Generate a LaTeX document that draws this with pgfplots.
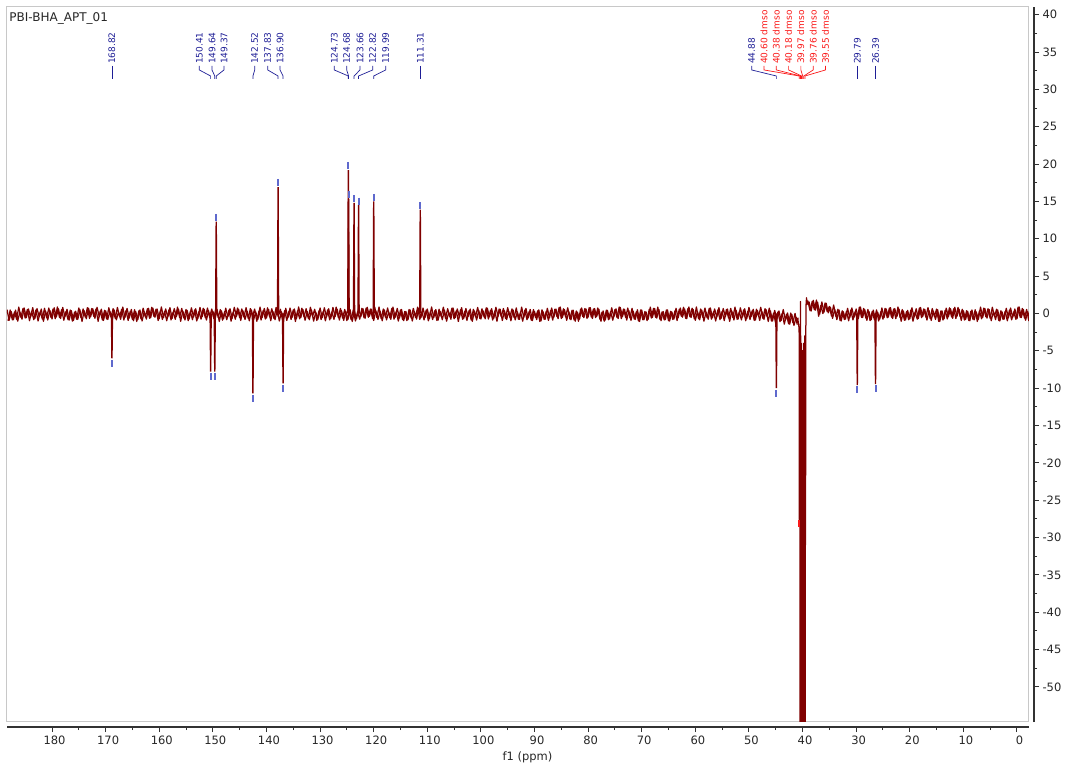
\documentclass[border=0pt]{standalone}
\usepackage{fontspec}
\setmainfont{DejaVu Sans}
\usepackage{pgfplots}
\pgfplotsset{compat=1.18}
\definecolor{spec}{RGB}{128,0,0}
\definecolor{labblue}{RGB}{30,30,150}
\definecolor{labred}{RGB}{250,25,25}
\definecolor{mkblue}{RGB}{95,105,205}
\definecolor{framegray}{RGB}{200,200,200}
\definecolor{axgray}{RGB}{50,50,50}
\newcommand{\plab}[4]{%
  \node[rotate=90, anchor=west, inner sep=0pt, text=#4, font=\fontsize{9}{10}\selectfont] at (axis cs:#1,33.40) {#3};
  \draw[#4, line width=0.7pt] (axis cs:#1,33.13) -- (axis cs:#1,32.60) -- (axis cs:#2,31.79) -- (axis cs:#2,31.39);
}
\begin{document}
\begin{tikzpicture}
\path[use as bounding box] (0pt,0pt) rectangle (1065pt,764pt);
% x axis with ticks
\begin{axis}[
  at={(7pt,37pt)}, anchor=south west, scale only axis,
  width=1022pt, height=700pt,
  xmin=-2.24, xmax=188.4, x dir=reverse, ymin=0, ymax=1,
  axis x line=bottom, axis y line=none,
  axis line style={-, draw=axgray, line width=1.3pt},
  xtick={0,10,...,180}, minor x tick num=1,
  tick align=outside, major tick length=5pt, minor tick length=3pt,
  tick style={axgray, line width=1pt},
  /pgf/number format/assume math mode=true,
  xticklabel style={font=\fontsize{11.5}{13}\selectfont, text=black!85, xshift=2.5pt},
  xlabel={f1 (ppm)},
  xlabel style={at={(axis description cs:0.5093,0)}, anchor=north, inner sep=0pt, yshift=-25pt, font=\fontsize{11.5}{13}\selectfont, text=black!85},
]
\end{axis}
% y axis with ticks
\begin{axis}[
  at={(1034pt,42pt)}, anchor=south east, scale only axis,
  width=100pt, height=715pt,
  xmin=0, xmax=1, ymin=-54.69, ymax=41.03,
  axis y line=right, axis x line=none,
  axis line style={-, draw=axgray, line width=1.3pt},
  ytick={-50,-45,...,40}, minor y tick num=1,
  tick align=outside, major tick length=5pt, minor tick length=3pt,
  tick style={axgray, line width=1pt},
  /pgf/number format/assume math mode=true,
  yticklabel style={font=\fontsize{11.5}{13}\selectfont, text=black!85},
]
\end{axis}
% main spectrum axis
\begin{axis}[
  at={(7pt,42pt)}, anchor=south west, scale only axis,
  width=1022pt, height=715pt,
  xmin=-2.24, xmax=188.4, x dir=reverse, ymin=-54.69, ymax=41.03,
  ticks=none, axis line style={draw=framegray, line width=1pt},
  clip=true,
]
% baseline noise, second interleaved trace
\addplot[spec, line width=1.25pt, line join=round] table {
x y
188.2 -0.98
187.8 0.47
187.4 -0.86
187.0 0.21
186.6 -0.79
186.2 0.85
185.8 -0.53
185.4 0.68
185.0 -0.62
184.6 0.54
184.2 -0.96
183.8 0.27
183.4 -0.83
183.0 0.48
182.6 -1.01
182.2 0.23
181.8 -0.76
181.4 0.69
181.0 -0.58
180.6 0.73
180.2 -0.51
179.8 0.60
179.4 -0.70
179.0 0.87
178.6 -0.55
178.2 0.52
177.8 -0.91
177.4 0.25
177.0 -0.84
176.6 0.45
176.2 -1.03
175.8 0.18
175.4 -0.77
175.0 0.74
174.6 -0.56
174.2 0.61
173.8 -0.49
173.4 0.78
173.0 -0.67
172.6 0.66
172.2 -0.41
171.8 0.59
171.4 -1.05
171.0 0.33
170.6 -0.88
170.2 0.42
169.8 -0.74
169.4 0.76
169.0 -0.47
168.6 0.63
168.2 -0.68
167.8 0.81
167.4 -0.43
167.0 0.56
166.6 -0.89
166.2 0.38
165.8 -0.93
165.4 0.31
165.0 -0.80
164.6 0.50
164.2 -1.07
163.8 0.35
163.4 -0.72
163.0 0.71
162.6 -0.45
162.2 0.64
161.8 -0.65
161.4 0.83
161.0 -0.38
160.6 0.57
160.2 -0.94
159.8 0.36
159.4 -0.81
159.0 0.29
158.6 -0.98
158.2 0.47
157.8 -0.86
157.4 0.21
157.0 -0.79
156.6 0.85
156.2 -0.53
155.8 0.68
155.4 -0.62
155.0 0.54
154.6 -0.96
154.2 0.27
153.8 -0.83
153.4 0.48
153.0 -1.01
152.6 0.23
152.2 -0.76
151.8 0.69
151.4 -0.58
151.0 0.73
150.6 -0.51
150.2 0.60
149.8 -0.70
149.4 0.87
149.0 -0.55
148.6 0.52
148.2 -0.91
147.8 0.25
147.4 -0.84
147.0 0.45
146.6 -1.03
146.2 0.18
145.8 -0.77
145.4 0.74
145.0 -0.56
144.6 0.61
144.2 -0.49
143.8 0.78
143.4 -0.67
143.0 0.66
142.6 -0.41
142.2 0.59
141.8 -1.05
141.4 0.33
141.0 -0.88
140.6 0.42
140.2 -0.74
139.8 0.76
139.4 -0.47
139.0 0.63
138.6 -0.68
138.2 0.81
137.8 -0.43
137.4 0.56
137.0 -0.89
136.6 0.38
136.2 -0.93
135.8 0.31
135.4 -0.80
135.0 0.50
134.6 -1.07
134.2 0.35
133.8 -0.72
133.4 0.71
133.0 -0.45
132.6 0.64
132.2 -0.65
131.8 0.83
131.4 -0.38
131.0 0.57
130.6 -0.94
130.2 0.36
129.8 -0.81
129.4 0.29
129.0 -0.98
128.6 0.47
128.2 -0.86
127.8 0.21
127.4 -0.79
127.0 0.85
126.6 -0.53
126.2 0.68
125.8 -0.62
125.4 0.54
125.0 -0.96
124.6 0.27
124.2 -0.83
123.8 0.48
123.4 -1.01
123.0 0.23
122.6 -0.76
122.2 0.69
121.8 -0.58
121.4 0.73
121.0 -0.51
120.6 0.60
120.2 -0.70
119.8 0.87
119.4 -0.55
119.0 0.87
118.6 -0.70
118.2 0.60
117.8 -0.51
117.4 0.73
117.0 -0.58
116.6 0.69
116.2 -0.76
115.8 0.23
115.4 -1.01
115.0 0.48
114.6 -0.83
114.2 0.27
113.8 -0.96
113.4 0.54
113.0 -0.62
112.6 0.68
112.2 -0.53
111.8 0.85
111.4 -0.79
111.0 0.21
110.6 -0.86
110.2 0.47
109.8 -0.98
109.4 0.29
109.0 -0.81
108.6 0.36
108.2 -0.94
107.8 0.57
107.4 -0.38
107.0 0.83
106.6 -0.65
106.2 0.64
105.8 -0.45
105.4 0.71
105.0 -0.72
104.6 0.35
104.2 -1.07
103.8 0.50
103.4 -0.80
103.0 0.31
102.6 -0.93
102.2 0.38
101.8 -0.89
101.4 0.56
101.0 -0.43
100.6 0.81
100.2 -0.68
99.8 0.63
99.4 -0.47
99.0 0.76
98.6 -0.74
98.2 0.42
97.8 -0.88
97.4 0.33
97.0 -1.05
96.6 0.59
96.2 -0.41
95.8 0.66
95.4 -0.67
95.0 0.78
94.6 -0.49
94.2 0.61
93.8 -0.56
93.4 0.74
93.0 -0.77
92.6 0.18
92.2 -1.03
91.8 0.45
91.4 -0.84
91.0 0.25
90.6 -0.91
90.2 0.52
89.8 -0.55
89.4 0.35
89.0 -1.07
88.6 0.50
88.2 -0.80
87.8 0.31
87.4 -0.93
87.0 0.38
86.6 -0.89
86.2 0.56
85.8 -0.43
85.4 0.81
85.0 -0.68
84.6 0.63
84.2 -0.47
83.8 0.76
83.4 -0.74
83.0 0.42
82.6 -0.88
82.2 0.33
81.8 -1.05
81.4 0.59
81.0 -0.41
80.6 0.66
80.2 -0.67
79.8 0.78
79.4 -0.49
79.0 0.61
78.6 -0.56
78.2 0.74
77.8 -0.77
77.4 0.18
77.0 -1.03
76.6 0.45
76.2 -0.84
75.8 0.25
75.4 -0.91
75.0 0.52
74.6 -0.55
74.2 0.87
73.8 -0.70
73.4 0.60
73.0 -0.51
72.6 0.73
72.2 -0.58
71.8 0.69
71.4 -0.76
71.0 0.23
70.6 -1.01
70.2 0.48
69.8 -0.83
69.4 0.27
69.0 -0.96
68.6 0.54
68.2 -0.62
67.8 0.68
67.4 -0.53
67.0 0.85
66.6 -0.79
66.2 0.21
65.8 -0.86
65.4 0.47
65.0 -0.98
64.6 0.29
64.2 -0.81
63.8 0.36
63.4 -0.94
63.0 0.57
62.6 -0.38
62.2 0.83
61.8 -0.65
61.4 0.64
61.0 -0.45
60.6 0.71
60.2 -0.72
59.8 0.87
59.4 -0.70
59.0 0.60
58.6 -0.51
58.2 0.73
57.8 -0.58
57.4 0.69
57.0 -0.76
56.6 0.23
56.2 -1.01
55.8 0.48
55.4 -0.83
55.0 0.27
54.6 -0.96
54.2 0.54
53.8 -0.62
53.4 0.68
53.0 -0.53
52.6 0.85
52.2 -0.79
51.8 0.21
51.4 -0.86
51.0 0.47
50.6 -0.98
50.2 0.29
49.8 -0.81
49.4 0.36
49.0 -0.94
48.6 0.57
48.2 -0.38
47.8 0.83
47.4 -0.65
47.0 0.64
46.6 -0.45
46.2 0.71
45.8 -1.02
45.4 0.05
45.0 -1.37
44.6 0.20
44.2 -1.10
43.8 0.01
43.4 -1.43
43.0 -0.12
42.6 -1.39
42.2 0.06
41.8 -1.23
41.4 0.01
41.0 -1.48
};
\addplot[spec, line width=1.25pt, line join=round] table {
x y
38.8 1.59
38.4 0.32
38.0 1.77
37.6 0.44
37.2 1.51
36.8 -0.09
36.4 1.55
36.0 0.17
35.6 1.38
35.2 0.08
34.8 0.84
34.4 -0.66
34.0 0.57
33.6 -0.83
33.2 0.48
32.8 -1.01
32.4 0.23
32.0 -0.76
31.6 0.69
31.2 -0.58
30.8 0.73
30.4 -0.51
30.0 0.60
29.6 -0.70
29.2 0.87
28.8 -0.55
28.4 0.52
28.0 -0.91
27.6 0.25
27.2 -0.84
26.8 0.45
26.4 -1.03
26.0 0.18
25.6 -0.77
25.2 0.74
24.8 -0.56
24.4 0.61
24.0 -0.49
23.6 0.78
23.2 -0.67
22.8 0.66
22.4 -0.41
22.0 0.59
21.6 -1.05
21.2 0.33
20.8 -0.88
20.4 0.42
20.0 -0.74
19.6 0.76
19.2 -0.47
18.8 0.63
18.4 -0.68
18.0 0.81
17.6 -0.43
17.2 0.56
16.8 -0.89
16.4 0.38
16.0 -0.93
15.6 0.31
15.2 -0.80
14.8 0.50
14.4 -1.07
14.0 0.35
13.6 -0.72
13.2 0.71
12.8 -0.45
12.4 0.64
12.0 -0.65
11.6 0.83
11.2 -0.38
10.8 0.57
10.4 -0.94
10.0 0.36
9.6 -0.81
9.2 0.29
8.8 -0.98
8.4 0.47
8.0 -0.86
7.6 0.21
7.2 -0.79
6.8 0.85
6.4 -0.53
6.0 0.68
5.6 -0.62
5.2 0.54
4.8 -0.96
4.4 0.27
4.0 -0.83
3.6 0.48
3.2 -1.01
2.8 0.23
2.4 -0.76
2.0 0.69
1.6 -0.58
1.2 0.73
0.8 -0.51
0.4 0.60
0.0 -0.70
-0.4 0.87
-0.8 -0.55
-1.2 0.52
-1.6 -0.91
-2.0 0.25
-2.4 -0.84
};
% main trace
\addplot[spec, line width=1.25pt, line join=round] table {
x y
188.4 0.52
188.0 -0.91
187.6 0.25
187.2 -0.84
186.8 0.45
186.4 -1.03
186.0 0.18
185.6 -0.77
185.2 0.74
184.8 -0.56
184.4 0.61
184.0 -0.49
183.6 0.78
183.2 -0.67
182.8 0.66
182.4 -0.41
182.0 0.59
181.6 -1.05
181.2 0.33
180.8 -0.88
180.4 0.42
180.0 -0.74
179.6 0.76
179.2 -0.47
178.8 0.63
178.4 -0.68
178.0 0.81
177.6 -0.43
177.2 0.56
176.8 -0.89
176.4 0.38
176.0 -0.93
175.6 0.31
175.2 -0.80
174.8 0.50
174.4 -1.07
174.0 0.35
173.6 -0.72
173.2 0.71
172.8 -0.45
172.4 0.64
172.0 -0.65
171.6 0.83
171.2 -0.38
170.8 0.57
170.4 -0.94
170.0 0.36
169.6 -0.81
169.2 0.29
168.8 -0.98
168.4 0.47
168.0 -0.86
167.6 0.21
167.2 -0.79
166.8 0.85
166.4 -0.53
166.0 0.68
165.6 -0.62
165.2 0.54
164.8 -0.96
164.4 0.27
164.0 -0.83
163.6 0.48
163.2 -1.01
162.8 0.23
162.4 -0.76
162.0 0.69
161.6 -0.58
161.2 0.73
160.8 -0.51
160.4 0.60
160.0 -0.70
159.6 0.87
159.2 -0.55
158.8 0.61
158.4 -0.49
158.0 0.78
157.6 -0.67
157.2 0.66
156.8 -0.41
156.4 0.59
156.0 -1.05
155.6 0.33
155.2 -0.88
154.8 0.42
154.4 -0.74
154.0 0.76
153.6 -0.47
153.2 0.63
152.8 -0.68
152.4 0.81
152.0 -0.43
151.6 0.56
151.2 -0.89
150.8 0.38
150.4 -0.93
150.0 0.31
149.6 -0.80
149.2 0.50
148.8 -1.07
148.4 0.35
148.0 -0.72
147.6 0.71
147.2 -0.45
146.8 0.64
146.4 -0.65
146.0 0.83
145.6 -0.38
145.2 0.57
144.8 -0.94
144.4 0.36
144.0 -0.81
143.6 0.29
143.2 -0.98
142.8 0.47
142.4 -0.86
142.0 0.21
141.6 -0.79
141.2 0.85
140.8 -0.53
140.4 0.68
140.0 -0.62
139.6 0.54
139.2 -0.96
138.8 0.27
138.4 -0.83
138.0 0.48
137.6 -1.01
137.2 0.23
136.8 -0.76
136.4 0.69
136.0 -0.58
135.6 0.73
135.2 -0.51
134.8 0.60
134.4 -0.70
134.0 0.87
133.6 -0.55
133.2 0.52
132.8 -0.91
132.4 0.25
132.0 -0.84
131.6 0.45
131.2 -1.03
130.8 0.18
130.4 -0.77
130.0 0.74
129.6 -0.56
129.2 0.76
128.8 -0.47
128.4 0.63
128.0 -0.68
127.6 0.81
127.2 -0.43
126.8 0.56
126.4 -0.89
126.0 0.38
125.6 -0.93
125.2 0.31
124.8 -0.80
124.4 0.50
124.0 -1.07
123.6 0.35
123.2 -0.72
122.8 0.71
122.4 -0.45
122.0 0.64
121.6 -0.65
121.2 0.83
120.8 -0.38
120.4 0.57
120.0 -0.94
119.6 0.36
119.2 -0.81
118.8 0.29
118.4 -0.98
118.0 0.47
117.6 -0.86
117.2 0.21
116.8 -0.79
116.4 0.85
116.0 -0.53
115.6 0.68
115.2 -0.62
114.8 0.54
114.4 -0.96
114.0 0.27
113.6 -0.83
113.2 0.48
112.8 -1.01
112.4 0.23
112.0 -0.76
111.6 0.69
111.2 -0.58
110.8 0.73
110.4 -0.51
110.0 0.60
109.6 -0.70
109.2 0.87
108.8 -0.55
108.4 0.52
108.0 -0.91
107.6 0.25
107.2 -0.84
106.8 0.45
106.4 -1.03
106.0 0.18
105.6 -0.77
105.2 0.74
104.8 -0.56
104.4 0.61
104.0 -0.49
103.6 0.78
103.2 -0.67
102.8 0.66
102.4 -0.41
102.0 0.59
101.6 -1.05
101.2 0.33
100.8 -0.88
100.4 0.42
100.0 -0.74
99.6 0.35
99.2 -0.72
98.8 0.71
98.4 -0.45
98.0 0.64
97.6 -0.65
97.2 0.83
96.8 -0.38
96.4 0.57
96.0 -0.94
95.6 0.36
95.2 -0.81
94.8 0.29
94.4 -0.98
94.0 0.47
93.6 -0.86
93.2 0.21
92.8 -0.79
92.4 0.85
92.0 -0.53
91.6 0.68
91.2 -0.62
90.8 0.54
90.4 -0.96
90.0 0.27
89.6 -0.83
89.2 0.48
88.8 -1.01
88.4 0.23
88.0 -0.76
87.6 0.69
87.2 -0.58
86.8 0.73
86.4 -0.51
86.0 0.60
85.6 -0.70
85.2 0.87
84.8 -0.55
84.4 0.52
84.0 -0.91
83.6 0.25
83.2 -0.84
82.8 0.45
82.4 -1.03
82.0 0.18
81.6 -0.77
81.2 0.74
80.8 -0.56
80.4 0.61
80.0 -0.49
79.6 0.78
79.2 -0.67
78.8 0.66
78.4 -0.41
78.0 0.59
77.6 -1.05
77.2 0.33
76.8 -0.88
76.4 0.42
76.0 -0.74
75.6 0.76
75.2 -0.47
74.8 0.63
74.4 -0.68
74.0 0.81
73.6 -0.43
73.2 0.56
72.8 -0.89
72.4 0.38
72.0 -0.93
71.6 0.31
71.2 -0.80
70.8 0.50
70.4 -1.07
70.0 0.47
69.6 -0.86
69.2 0.21
68.8 -0.79
68.4 0.85
68.0 -0.53
67.6 0.68
67.2 -0.62
66.8 0.54
66.4 -0.96
66.0 0.27
65.6 -0.83
65.2 0.48
64.8 -1.01
64.4 0.23
64.0 -0.76
63.6 0.69
63.2 -0.58
62.8 0.73
62.4 -0.51
62.0 0.60
61.6 -0.70
61.2 0.87
60.8 -0.55
60.4 0.52
60.0 -0.91
59.6 0.25
59.2 -0.84
58.8 0.45
58.4 -1.03
58.0 0.18
57.6 -0.77
57.2 0.74
56.8 -0.56
56.4 0.61
56.0 -0.49
55.6 0.78
55.2 -0.67
54.8 0.66
54.4 -0.41
54.0 0.59
53.6 -1.05
53.2 0.33
52.8 -0.88
52.4 0.42
52.0 -0.74
51.6 0.76
51.2 -0.47
50.8 0.63
50.4 -0.68
50.0 0.81
49.6 -0.43
49.2 0.56
48.8 -0.89
48.4 0.38
48.0 -0.93
47.6 0.31
47.2 -0.80
46.8 0.50
46.4 -1.07
46.0 0.35
45.6 -1.02
45.2 0.41
44.8 -0.75
44.4 0.34
44.0 -0.95
43.6 0.53
43.2 -0.88
42.8 0.07
42.4 -1.44
42.0 -0.14
41.6 -1.61
41.2 -0.51
40.95 -1.2
40.85 -0.6
40.80 -1.5
40.72 -1.4
40.66 -2.0
40.62 -3.0
40.60 -27.6
40.57 -3.5
40.50 -4
40.47 -200
40.44 -2
40.41 -250
40.39 1.6
40.36 -250
40.33 -3
40.30 -250
40.27 -4
40.24 -250
40.21 -4
40.18 -250
40.15 -5
40.12 -250
40.09 -5
40.06 -250
40.03 -5
40.00 -250
39.97 -5
39.94 -250
39.91 -5
39.88 -250
39.85 -5
39.82 -250
39.79 -4
39.76 -250
39.73 -4
39.70 -250
39.67 -4
39.64 -250
39.61 -3
39.58 -250
39.55 -8.6
39.52 -200
39.48 -20
39.44 -31
39.40 -3
39.34 1.2
39.26 2.1
39.15 1.2
39.0 1.68
38.6 0.37
38.2 1.61
37.8 0.50
37.4 1.80
37.0 -0.37
36.6 1.05
36.2 -0.02
35.8 1.41
35.4 0.25
35.0 0.94
34.6 -0.35
34.2 1.13
33.8 -0.38
33.4 0.57
33.0 -0.94
32.6 0.36
32.2 -0.81
31.8 0.29
31.4 -0.98
31.0 0.47
30.6 -0.86
30.2 0.21
29.8 -0.79
29.4 0.85
29.0 -0.53
28.6 0.68
28.2 -0.62
27.8 0.54
27.4 -0.96
27.0 0.27
26.6 -0.83
26.2 0.48
25.8 -1.01
25.4 0.23
25.0 -0.76
24.6 0.69
24.2 -0.58
23.8 0.73
23.4 -0.51
23.0 0.60
22.6 -0.70
22.2 0.87
21.8 -0.55
21.4 0.52
21.0 -0.91
20.6 0.25
20.2 -0.84
19.8 0.45
19.4 -1.03
19.0 0.18
18.6 -0.77
18.2 0.74
17.8 -0.56
17.4 0.61
17.0 -0.49
16.6 0.78
16.2 -0.67
15.8 0.66
15.4 -0.41
15.0 0.59
14.6 -1.05
14.2 0.33
13.8 -0.88
13.4 0.42
13.0 -0.74
12.6 0.76
12.2 -0.47
11.8 0.63
11.4 -0.68
11.0 0.81
10.6 -0.43
10.2 0.56
9.8 -0.89
9.4 0.38
9.0 -0.93
8.6 0.31
8.2 -0.80
7.8 0.50
7.4 -1.07
7.0 0.35
6.6 -0.72
6.2 0.71
5.8 -0.45
5.4 0.64
5.0 -0.65
4.6 0.83
4.2 -0.38
3.8 0.57
3.4 -0.94
3.0 0.36
2.6 -0.81
2.2 0.29
1.8 -0.98
1.4 0.47
1.0 -0.86
0.6 0.21
0.2 -0.79
-0.2 0.85
-0.6 -0.53
-1.0 0.68
-1.4 -0.62
-1.8 0.54
-2.2 -0.96
-2.6 0.30
};
% peaks
\addplot[spec, line width=1.4pt] coordinates {(168.92,0) (168.82,-6.0) (168.72,0)};
\addplot[spec, line width=1.4pt] coordinates {(150.51,0) (150.41,-7.8) (150.31,0)};
\addplot[spec, line width=1.4pt] coordinates {(149.74,0) (149.64,-7.8) (149.54,0)};
\addplot[spec, line width=1.4pt] coordinates {(149.47,0) (149.37,12.3) (149.27,0)};
\addplot[spec, line width=1.4pt] coordinates {(142.62,0) (142.52,-10.7) (142.42,0)};
\addplot[spec, line width=1.4pt] coordinates {(137.93,0) (137.83,16.9) (137.73,0)};
\addplot[spec, line width=1.4pt] coordinates {(137.00,0) (136.90,-9.35) (136.80,0)};
\addplot[spec, line width=1.4pt] coordinates {(124.83,0) (124.73,19.2) (124.63,0)};
\addplot[spec, line width=1.4pt] coordinates {(124.78,0) (124.68,15.3) (124.58,0)};
\addplot[spec, line width=1.4pt] coordinates {(123.76,0) (123.66,14.8) (123.56,0)};
\addplot[spec, line width=1.4pt] coordinates {(122.92,0) (122.82,14.5) (122.72,0)};
\addplot[spec, line width=1.4pt] coordinates {(120.09,0) (119.99,15.0) (119.89,0)};
\addplot[spec, line width=1.4pt] coordinates {(111.41,0) (111.31,13.9) (111.21,0)};
\addplot[spec, line width=1.4pt] coordinates {(44.98,0) (44.88,-10.0) (44.78,0)};
\addplot[spec, line width=1.4pt] coordinates {(29.89,0) (29.79,-9.6) (29.69,0)};
\addplot[spec, line width=1.4pt] coordinates {(26.49,0) (26.39,-9.45) (26.29,0)};
% peak-pick markers
\addplot[only marks, mark=|, mark size=3.5pt, mkblue, mark options={line width=2pt}] coordinates {
(168.82,-6.69) (150.41,-8.43) (149.64,-8.43) (149.37,12.88) (142.52,-11.45) (137.83,17.54) (136.90,-10.11) (124.73,19.81) (124.68,15.93) (123.66,15.37) (122.82,15.03) (119.99,15.53) (111.31,14.43) (44.88,-10.71) (29.79,-10.24) (26.39,-10.11)};
\addplot[only marks, mark=|, mark size=3.5pt, labred, mark options={line width=2pt}] coordinates {(40.60,-28.1)};
% title
\node[anchor=north west, inner sep=0pt, font=\fontsize{12}{14}\selectfont, text=black!85] at (axis description cs:0.00225,0.992) {PBI-BHA\_APT\_01};
% peak labels
\plab{168.82}{168.82}{168.82}{labblue}
\plab{152.53}{150.41}{150.41}{labblue}
\plab{150.16}{149.64}{149.64}{labblue}
\plab{147.92}{149.37}{149.37}{labblue}
\plab{142.19}{142.52}{142.52}{labblue}
\plab{139.77}{137.83}{137.83}{labblue}
\plab{137.47}{136.90}{136.90}{labblue}
\plab{127.35}{124.73}{124.73}{labblue}
\plab{125.03}{124.68}{124.68}{labblue}
\plab{122.55}{123.66}{123.66}{labblue}
\plab{120.18}{122.82}{122.82}{labblue}
\plab{117.76}{119.99}{119.99}{labblue}
\plab{111.31}{111.31}{111.31}{labblue}
\plab{49.49}{44.88}{44.88}{labblue}
\plab{47.19}{40.60}{40.60 dmso}{labred}
\plab{44.90}{40.38}{40.38 dmso}{labred}
\plab{42.60}{40.18}{40.18 dmso}{labred}
\plab{40.31}{39.97}{39.97 dmso}{labred}
\plab{38.02}{39.76}{39.76 dmso}{labred}
\plab{35.72}{39.55}{39.55 dmso}{labred}
\plab{29.79}{29.79}{29.79}{labblue}
\plab{26.39}{26.39}{26.39}{labblue}
\end{axis}
\end{tikzpicture}
\end{document}
